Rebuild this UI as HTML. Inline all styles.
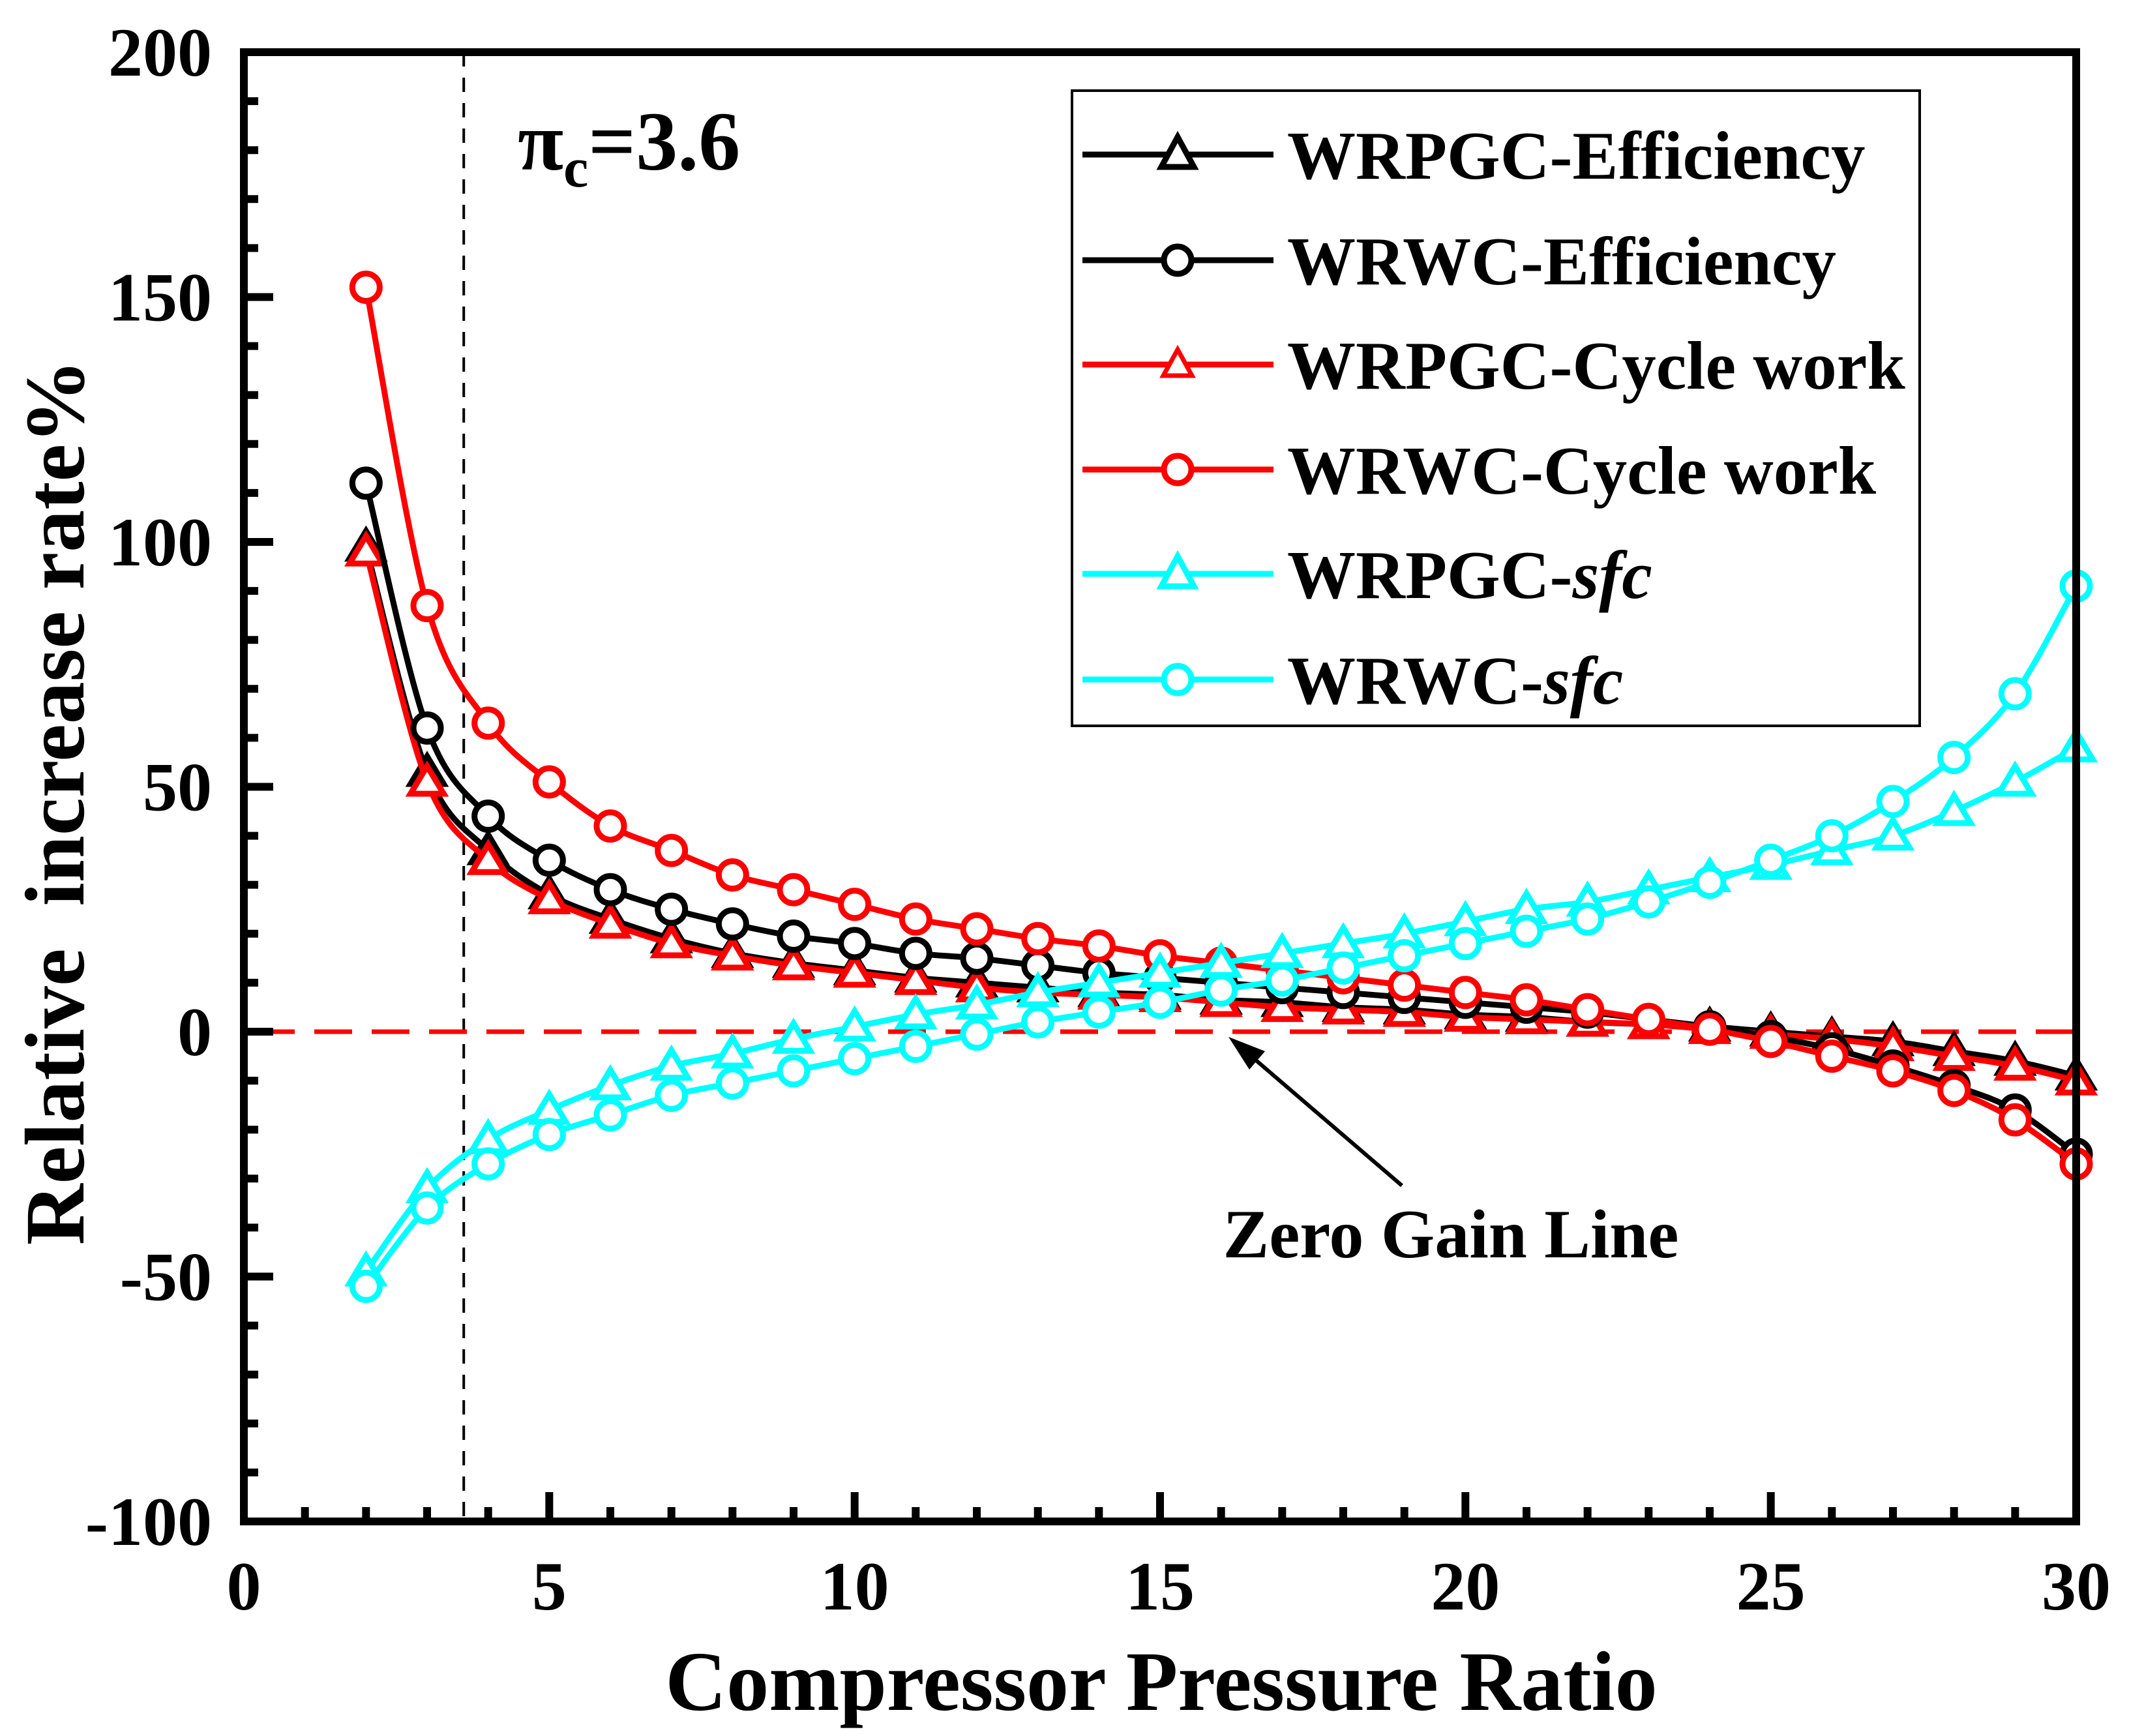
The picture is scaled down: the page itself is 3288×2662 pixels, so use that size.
<!DOCTYPE html>
<html><head><meta charset="utf-8"><style>html,body{margin:0;padding:0;background:#fff}svg{display:block}text{font-family:"Liberation Serif",serif;font-weight:bold}</style></head>
<body>
<svg id="chart" width="3288" height="2662" viewBox="0 0 3288 2662" xmlns="http://www.w3.org/2000/svg">
<g id="grid"></g>
<g id="series"></g>
<g id="axes"></g>
</svg>
<script>
const xs = [2,3,4,5,6,7,8,9,10,11,12,13,14,15,16,17,18,19,20,21,22,23,24,25,26,27,28,29,30];
const wrpgcEff = [99,53,37,28,23,19,16,14,12.5,11,10,9,8,7.5,6.5,6,5,4.5,3.5,3,2,1.5,1,0,-1,-2,-4,-6,-9];
const wrwcEff = [112,62,44,35,29,25,22,19.5,18,16,15,13.5,12,11,10,9,8,7,6,5,4,2.5,1,-1,-3.5,-7,-11,-16,-25];
const wrpgcWork = [98,51,35,27,22,18,15.5,13.5,12,10.5,9,8,7.5,7,6,5,4.5,4,3,2.5,2,1.5,0.5,-0.5,-1.5,-3,-5,-7,-10];
const wrwcWork = [152,87,63,51,42,37,32,29,26,23,21,19,17.5,15.5,14,12.5,11,9.5,8,6.5,4.5,2.5,0.5,-2,-5,-8,-12,-18,-27];
const wrpgcSfc = [-49,-32,-22,-16,-11,-7,-4.5,-1.5,1,3.5,5.5,8,10,12,14,16,18,20,22.5,25,26.5,29,31.5,34,37,40,45,51,58];
const wrwcSfc = [-52,-36,-27,-21,-17,-13,-10.5,-8,-5.5,-3,-0.5,2,4,6,8.5,10.5,13,15.5,18,20.5,23,26.5,30.5,35,40,47,56,69,91];
const xTicks = [0,5,10,15,20,25,30];
const yTicks = [-100,-50,0,50,100,150,200];
const piC = 3.6;

const L=374,R=3184,T=80,B=2333,X0=0,X1=30,Y0=-100,Y1=200;
const sx=v=>L+(v-X0)/(X1-X0)*(R-L);
const sy=v=>B-(v-Y0)/(Y1-Y0)*(B-T);
const NS="http://www.w3.org/2000/svg";
function mk(tag,attrs,parent){const e=document.createElementNS(NS,tag);for(const k in attrs)e.setAttribute(k,attrs[k]);parent.appendChild(e);return e;}
const gS=document.getElementById('series'),gA=document.getElementById('axes'),gG=document.getElementById('grid');

let vl=mk('line',{x1:sx(piC),x2:sx(piC),y1:T,y2:B,stroke:'#000','stroke-width':4,'stroke-dasharray':'22 17'},gG);


let zl=mk('line',{x1:sx(0)+20,x2:R,y1:sy(0),y2:sy(0),stroke:'#ff0000','stroke-width':7,'stroke-dasharray':'58 30'},gG);



function smoothPath(pts){let d=`M${pts[0][0]},${pts[0][1]}`;for(let i=0;i<pts.length-1;i++){const p0=pts[Math.max(0,i-1)],p1=pts[i],p2=pts[i+1],p3=pts[Math.min(pts.length-1,i+2)];const c1=[p1[0]+(p2[0]-p0[0])/6,p1[1]+(p2[1]-p0[1])/6],c2=[p2[0]-(p3[0]-p1[0])/6,p2[1]-(p3[1]-p1[1])/6];d+=` C${c1[0]},${c1[1]} ${c2[0]},${c2[1]} ${p2[0]},${p2[1]}`;}return d;}
function marker(shape,cx,cy,color,parent,r){
  if(shape==='c') return mk('circle',{cx:cx,cy:cy,r:r,fill:'#fff',stroke:color,'stroke-width':9},parent);
  const h=r*1.15;return mk('polygon',{points:`${cx},${cy-h} ${cx-h*1.05},${cy+h*0.75} ${cx+h*1.05},${cy+h*0.75}`,fill:'#fff',stroke:color,'stroke-width':9,'stroke-linejoin':'miter'},parent);
}
const series=[
 {name:'wrpgc-efficiency',vals:wrpgcEff,color:'#000',shape:'t'},
 {name:'wrpgc-cycle-work',vals:wrpgcWork,color:'#ff0000',shape:'t'},
 {name:'wrwc-efficiency',vals:wrwcEff,color:'#000',shape:'c'},
 {name:'wrwc-cycle-work',vals:wrwcWork,color:'#ff0000',shape:'c'},
 {name:'wrpgc-sfc',vals:wrpgcSfc,color:'#00ffff',shape:'t'},
 {name:'wrwc-sfc',vals:wrwcSfc,color:'#00ffff',shape:'c'}
];
series.forEach(s=>{
  const g=mk('g',{},gS);
  
  
  const pts=xs.map((x,i)=>[sx(x),sy(s.vals[i])]);
  const p=mk('path',{d:smoothPath(pts),fill:'none',stroke:s.color,'stroke-width':9},g);
  
  
  pts.forEach(pt=>{const m=marker(s.shape,pt[0],pt[1],s.color,g,21);
    
    });
});

let fr=mk('rect',{x:L,y:T,width:R-L,height:B-T,fill:'none',stroke:'#000','stroke-width':12},gA);


for(let v=X0;v<=X1;v+=1){const major=v%5===0;const t=mk('line',{x1:sx(v),x2:sx(v),y1:B,y2:B-(major?45:22),stroke:'#000','stroke-width':12},gA);
  
  }
for(let v=Y0;v<=Y1;v+=10){const major=v%50===0;const t=mk('line',{x1:L,x2:L+(major?45:22),y1:sy(v),y2:sy(v),stroke:'#000','stroke-width':12},gA);
  
  }
xTicks.forEach(v=>{const t=mk('text',{x:sx(v),y:2468,'font-size':106,'text-anchor':'middle'},gA);t.textContent=v;
  
  });
yTicks.forEach(v=>{const t=mk('text',{x:325,y:sy(v)+36,'font-size':106,'text-anchor':'end'},gA);t.textContent=v;
  
  });
</script>
<svg style="position:absolute;left:0;top:0" width="3288" height="2662">
<text x="1781" y="2622" font-size="130" text-anchor="middle" style="font-family:'Liberation Serif',serif;font-weight:bold">Compressor Pressure Ratio</text>
<text transform="translate(128,1230) rotate(-90)" font-size="130" text-anchor="middle" xml:space="preserve" style="font-family:'Liberation Serif',serif;font-weight:bold">Relative  increase rate%</text>
<text x="794" y="260" font-size="128" style="font-family:'Liberation Serif',serif;font-weight:bold">π<tspan font-size="86" dy="26">c</tspan><tspan dy="-26">=3.6</tspan></text>
<g>
<line x1="2150" y1="1818" x2="1910" y2="1612" stroke="#000" stroke-width="6"/>
<polygon points="1884,1590 1940,1612 1916,1640" fill="#000"/>
<text x="2225" y="1928" font-size="106" text-anchor="middle" style="font-family:'Liberation Serif',serif;font-weight:bold">Zero Gain Line</text>
</g>
<g style="font-family:'Liberation Serif',serif;font-weight:bold" font-size="105">
<rect x="1644" y="139" width="1300" height="974" fill="#fff" stroke="#000" stroke-width="4"/>
<g><line x1="1660" x2="1953" y1="237" y2="237" stroke="#000" stroke-width="9"/><polygon points="1806,210 1781,256 1831,256" fill="#fff" stroke="#000" stroke-width="9"/><text x="1974" y="274">WRPGC-Efficiency</text></g>
<g><line x1="1660" x2="1953" y1="399" y2="399" stroke="#000" stroke-width="9"/><circle cx="1806" cy="399" r="21" fill="#fff" stroke="#000" stroke-width="9"/><text x="1974" y="436">WRWC-Efficiency</text></g>
<g><line x1="1660" x2="1953" y1="559" y2="559" stroke="#ff0000" stroke-width="9"/><polygon points="1806,536 1784,576 1828,576" fill="#fff" stroke="#ff0000" stroke-width="7"/><text x="1974" y="596">WRPGC-Cycle work</text></g>
<g><line x1="1660" x2="1953" y1="720" y2="720" stroke="#ff0000" stroke-width="9"/><circle cx="1806" cy="720" r="21" fill="#fff" stroke="#ff0000" stroke-width="9"/><text x="1974" y="757">WRWC-Cycle work</text></g>
<g><line x1="1660" x2="1953" y1="880" y2="880" stroke="#00ffff" stroke-width="9"/><polygon points="1806,853 1781,899 1831,899" fill="#fff" stroke="#00ffff" stroke-width="9"/><text x="1974" y="917">WRPGC-<tspan font-style="italic">sfc</tspan></text></g>
<g><line x1="1660" x2="1953" y1="1042" y2="1042" stroke="#00ffff" stroke-width="9"/><circle cx="1806" cy="1042" r="21" fill="#fff" stroke="#00ffff" stroke-width="9"/><text x="1974" y="1079">WRWC-<tspan font-style="italic">sfc</tspan></text></g>
</g>
</svg>
</body></html>
